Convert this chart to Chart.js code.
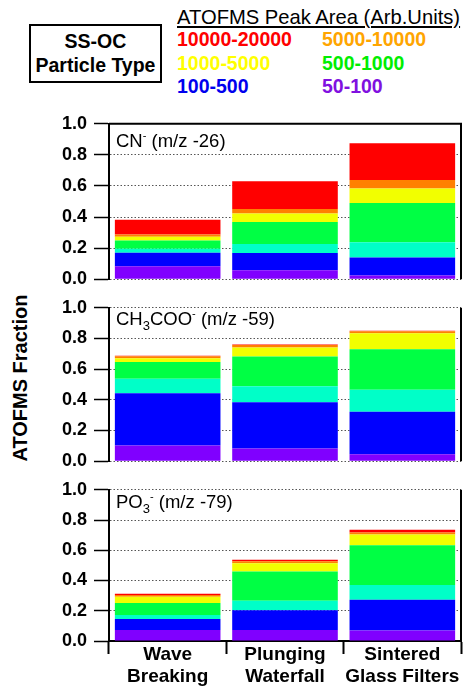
<!DOCTYPE html>
<html><head><meta charset="utf-8">
<script src="https://cdn.jsdelivr.net/npm/chart.js@4/dist/chart.umd.min.js"></script>
<style>
html,body{margin:0;padding:0;background:#fff;width:464px;height:689px;overflow:hidden;position:relative;font-family:"Liberation Sans",Arial,sans-serif;}
canvas{position:absolute;left:0;}
.abs{position:absolute;white-space:nowrap;line-height:1;color:#000;}
.b{font-weight:bold;}
.sup{position:relative;top:-8px;font-size:11px;}
.sub{position:relative;top:5px;font-size:13px;}
</style></head><body>

<div class="abs" style="left:29px;top:24px;width:129px;height:55px;border:2px solid #000;"></div>
<div class="abs b" style="left:31px;width:129px;text-align:center;top:32px;font-size:19.5px;">SS-OC</div>
<div class="abs b" style="left:31px;width:129px;text-align:center;top:56px;font-size:19.5px;">Particle Type</div>

<div class="abs" style="left:177px;top:6.5px;font-size:20.2px;text-decoration:underline;">ATOFMS Peak Area (Arb.Units)</div>
<div class="abs b" style="left:177px;top:30px;font-size:19.5px;color:#ff0000;">10000-20000</div>
<div class="abs b" style="left:322px;top:30px;font-size:19.5px;color:#ffa500;">5000-10000</div>
<div class="abs b" style="left:177px;top:53.5px;font-size:19.5px;color:#ffff00;">1000-5000</div>
<div class="abs b" style="left:322px;top:53.5px;font-size:19.5px;color:#00ee00;">500-1000</div>
<div class="abs b" style="left:177px;top:77px;font-size:19.5px;color:#0000ee;">100-500</div>
<div class="abs b" style="left:322px;top:77px;font-size:19.5px;color:#8010e0;">50-100</div>

<div class="abs b" style="left:20px;top:378px;font-size:20px;transform:translate(-50%,-50%) rotate(-90deg);">ATOFMS Fraction</div>

<canvas id="c1" width="464" height="191" style="top:106px;width:464px;height:191px;"></canvas>
<canvas id="c2" width="464" height="189" style="top:290px;width:464px;height:189px;"></canvas>
<canvas id="c3" width="464" height="217" style="top:472px;width:464px;height:217px;"></canvas>

<div class="abs" style="left:116px;top:131.6px;font-size:18.5px;">CN<span class="sup">-</span> (m/z -26)</div>
<div class="abs" style="left:116px;top:310.3px;font-size:18.5px;">CH<span class="sub">3</span>COO<span class="sup">-</span> (m/z -59)</div>
<div class="abs" style="left:116px;top:492.6px;font-size:18.5px;">PO<span class="sub">3</span><span class="sup">-</span> (m/z -79)</div>

<script>
const categories = [['Wave','Breaking'],['Plunging','Waterfall'],['Sintered','Glass Filters']];
const yTickValues = [0, 0.2, 0.4, 0.6, 0.8, 1.0];
const seriesNames = ['50-100','100-500','100-500 (upper)','500-1000','1000-5000','5000-10000','10000-20000'];
const seriesColors = ['#8000ff','#0000ff','#00ffc8','#00ff44','#f2ff00','#ff8000','#ff0000'];

// CN- (m/z -26)
const cn_50_100     = [0.084, 0.058, 0.024];
const cn_100_500    = [0.086, 0.110, 0.116];
const cn_cyan       = [0.026, 0.058, 0.097];
const cn_500_1000   = [0.053, 0.142, 0.253];
const cn_1000_5000  = [0.024, 0.054, 0.093];
const cn_5000_10000 = [0.015, 0.030, 0.056];
const cn_10000_20000= [0.095, 0.178, 0.236];

// CH3COO- (m/z -59)
const ac_50_100     = [0.103, 0.082, 0.045];
const ac_100_500    = [0.340, 0.303, 0.278];
const ac_cyan       = [0.095, 0.103, 0.142];
const ac_500_1000   = [0.109, 0.194, 0.264];
const ac_1000_5000  = [0.024, 0.060, 0.105];
const ac_5000_10000 = [0.013, 0.015, 0.013];
const ac_10000_20000= [0.003, 0.003, 0.003];

// PO3- (m/z -79)
const po_50_100     = [0.073, 0.073, 0.069];
const po_100_500    = [0.073, 0.131, 0.204];
const po_cyan       = [0.026, 0.063, 0.097];
const po_500_1000   = [0.080, 0.193, 0.264];
const po_1000_5000  = [0.040, 0.054, 0.071];
const po_5000_10000 = [0.013, 0.013, 0.013];
const po_10000_20000= [0.007, 0.011, 0.017];

const panels = [
  {id:'c1', data:[cn_50_100,cn_100_500,cn_cyan,cn_500_1000,cn_1000_5000,cn_5000_10000,cn_10000_20000], padTop:17, padBottom:5, topLine:true, xAxis:false},
  {id:'c2', data:[ac_50_100,ac_100_500,ac_cyan,ac_500_1000,ac_1000_5000,ac_5000_10000,ac_10000_20000], padTop:15, padBottom:6, topLine:false, xAxis:false},
  {id:'c3', data:[po_50_100,po_100_500,po_cyan,po_500_1000,po_1000_5000,po_5000_10000,po_10000_20000], padTop:14, padBottom:0, topLine:false, xAxis:true}
];

const framePlugin = {
  id:'frame',
  afterDraw(chart, args, o){
    const {ctx, chartArea:a} = chart;
    ctx.save();
    ctx.strokeStyle = '#000';
    ctx.lineWidth = 2;
    ctx.beginPath();
    ctx.moveTo(a.right, a.top - (o.top ? 1 : 0));
    ctx.lineTo(a.right, a.bottom);
    if (o.top){ ctx.moveTo(a.left, a.top); ctx.lineTo(a.right + 1, a.top); }
    ctx.stroke();
    ctx.restore();
  }
};

const FONT = '"Liberation Sans", Arial, sans-serif';

panels.forEach(p => {
  new Chart(document.getElementById(p.id), {
    type:'bar',
    data:{
      labels: categories,
      datasets: p.data.map((d,i) => ({
        label: seriesNames[i],
        data: d,
        backgroundColor: seriesColors[i],
        borderWidth: 0,
        categoryPercentage: 1.0,
        barPercentage: 0.9
      }))
    },
    options:{
      responsive:false,
      animation:false,
      events:[],
      layout:{padding:{top:p.padTop, bottom:p.padBottom, left:0, right:3}},
      plugins:{legend:{display:false}, tooltip:{enabled:false}, frame:{top:p.topLine}},
      scales:{
        x:{
          stacked:true,
          display:p.xAxis,
          offset:true,
          grid:{offset:true, drawOnChartArea:false, drawTicks:true, tickLength:13, tickColor:'#000', tickWidth:2},
          border:{display:true, color:'#000', width:2},
          ticks:{color:'#000', padding:-10, maxRotation:0, autoSkip:false, font:{family:FONT, size:19, weight:'bold', lineHeight:1.14}},
          afterFit(s){ if (p.xAxis) s.height = 48; }
        },
        y:{
          stacked:true,
          min:0, max:1,
          afterBuildTicks(s){ s.ticks = yTickValues.map(v => ({value:v})); },
          ticks:{color:'#000', padding:7, autoSkip:false, font:{family:FONT, size:18, weight:'bold'}, callback:v => Number(v).toFixed(1)},
          grid:{color:'#555', lineWidth:1, drawTicks:true, tickLength:15, tickColor:'#000', tickWidth:1.5},
          border:{display:true, color:'#000', width:2, dash:[1.5,2]},
          afterFit(s){ s.width = 109; }
        }
      }
    },
    plugins:[framePlugin]
  });
});
</script>
</body></html>
